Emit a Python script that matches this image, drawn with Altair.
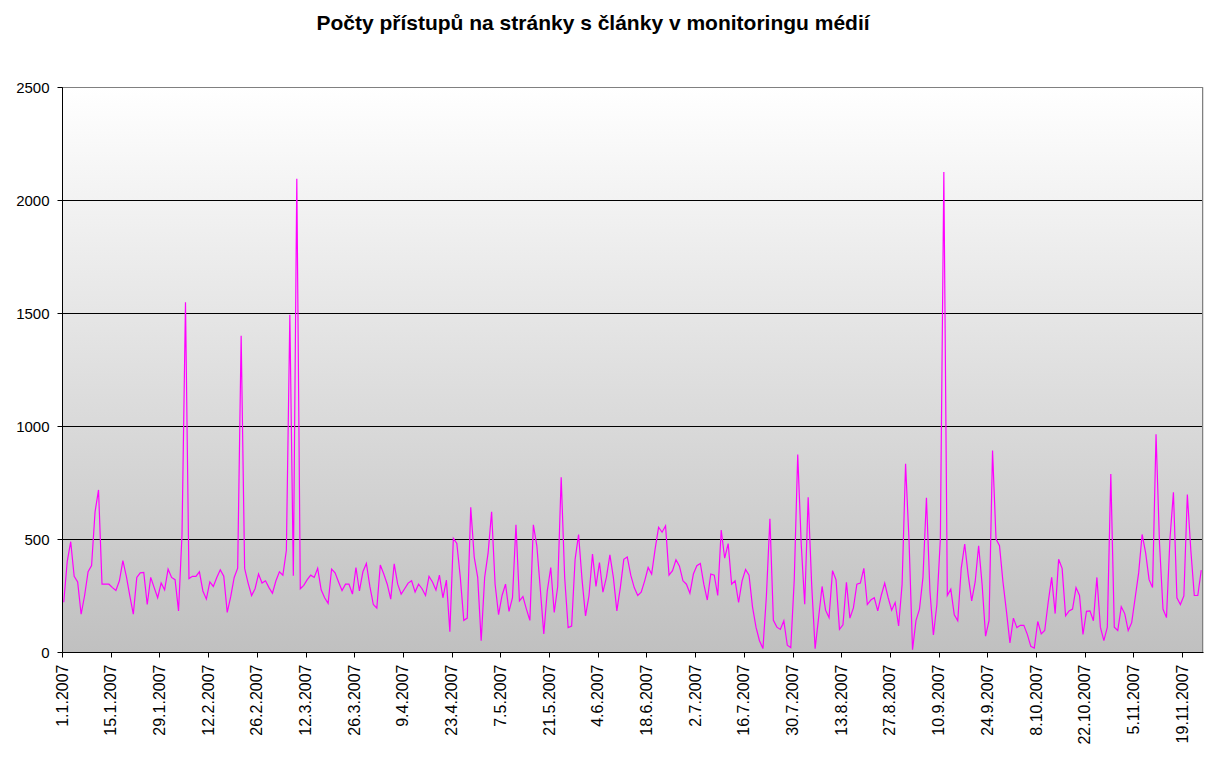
import altair as alt
import pandas as pd

TITLE = "Počty přístupů na stránky s články v monitoringu médií"

# daily hits, 1.1.2007 - 24.11.2007
VALUES = [
    220, 400, 488, 335, 310, 167, 250, 355, 382, 620,
    717, 300, 300, 300, 285, 272, 315, 404, 335, 248,
    167, 330, 350, 352, 210, 330, 285, 240, 305, 275,
    367, 330, 320, 182, 520, 1547, 325, 335, 335, 355,
    270, 234, 310, 290, 330, 364, 335, 175, 245, 330,
    371, 1399, 370, 305, 250, 280, 345, 305, 315, 285,
    260, 315, 355, 340, 450, 1492, 337, 2094, 280, 295,
    320, 340, 330, 370, 275, 240, 215, 367, 350, 310,
    272, 300, 300, 256, 374, 270, 355, 392, 290, 210,
    194, 385, 345, 300, 234, 390, 300, 256, 280, 305,
    315, 265, 300, 280, 250, 335, 310, 274, 340, 240,
    318, 90, 503, 480, 330, 140, 150, 640, 420, 330,
    50, 330, 440, 620, 300, 165, 250, 300, 180, 240,
    563, 226, 245, 190, 140, 563, 470, 278, 80, 270,
    374, 175, 290, 773, 330, 108, 115, 410, 520, 320,
    160, 250, 433, 290, 396, 265, 330, 430, 330, 182,
    285, 410, 420, 340, 285, 250, 265, 315, 374, 345,
    455, 552, 530, 558, 340, 360, 408, 380, 315, 300,
    260, 345, 382, 392, 300, 230, 345, 340, 250, 540,
    415, 480, 300, 315, 219, 315, 365, 340, 200, 110,
    50, 15, 250, 590, 140, 110, 100, 138, 30, 19,
    320, 874, 478, 211, 685, 300, 15, 152, 290, 185,
    152, 360, 320, 100, 120, 308, 150, 195, 300, 305,
    370, 210, 230, 240, 182, 250, 305, 240, 185, 219,
    115, 300, 833, 490, 10, 140, 190, 330, 682, 270,
    75, 210, 500, 2124, 250, 278, 165, 138, 370, 478,
    340, 226, 310, 470, 300, 70, 140, 892, 500, 470,
    310, 180, 40, 150, 108, 118, 118, 78, 25, 17,
    135, 80, 95, 220, 330, 170, 410, 370, 160, 182,
    190, 285, 250, 78, 180, 182, 138, 330, 110, 50,
    110, 788, 110, 95, 200, 170, 95, 130, 240, 350,
    520, 440, 320, 285, 963, 480, 190, 152, 500, 707,
    240, 210, 248, 697, 450, 250, 250, 362,
]

TICK_LABELS = [
    "1.1.2007", "15.1.2007", "29.1.2007", "12.2.2007", "26.2.2007", "12.3.2007",
    "26.3.2007", "9.4.2007", "23.4.2007", "7.5.2007", "21.5.2007", "4.6.2007",
    "18.6.2007", "2.7.2007", "16.7.2007", "30.7.2007", "13.8.2007", "27.8.2007",
    "10.9.2007", "24.9.2007", "8.10.2007", "22.10.2007", "5.11.2007", "19.11.2007",
]
TICK_STEP = 14
N_DAYS = 328
Y_TICKS = [0, 500, 1000, 1500, 2000, 2500]
GRID_LINES = [500, 1000, 1500, 2000]

W, H = 1141, 565
FONT = "Liberation Sans"

df = pd.DataFrame({"day": [i + 0.5 for i in range(len(VALUES))], "hits": VALUES})
tick_days = [k * TICK_STEP for k in range(len(TICK_LABELS))]
label_expr = "[" + ",".join("'" + s + "'" for s in TICK_LABELS) + "][round(datum.value/%d)]" % TICK_STEP

xscale = alt.Scale(domain=[0, N_DAYS], nice=False, zero=False)
yscale = alt.Scale(domain=[0, 2500], nice=False)

yaxis = alt.Axis(values=Y_TICKS, format="d", labelFont=FONT, labelFontSize=15,
                 labelColor="black", labelPadding=8, tickSize=5,
                 tickColor="black", domainColor="black", grid=False,
                 zindex=1, title=None)
xaxis = alt.Axis(values=tick_days, labelExpr=label_expr, labelAngle=-90,
                 labelFont=FONT, labelFontSize=16, labelColor="black",
                 labelPadding=7, labelOverlap=False, labelFlush=False,
                 tickSize=5, tickColor="black", domainColor="black",
                 grid=False, zindex=1, title=None)

one = alt.Data(values=[{}])

bg = alt.Chart(one).mark_rect(
    fill={"gradient": "linear", "x1": 0, "y1": 0, "x2": 0, "y2": 1,
          "stops": [{"offset": 0, "color": "#ffffff"}, {"offset": 1, "color": "#c0c0c0"}]},
    strokeWidth=0,
).encode(x=alt.value(0), x2=alt.value(W), y=alt.value(0), y2=alt.value(H))

grid = alt.Chart(pd.DataFrame({"g": GRID_LINES})).mark_rule(
    color="black", strokeWidth=1, yOffset=0.5
).encode(
    y=alt.Y("g:Q", scale=yscale, axis=yaxis),
    x=alt.value(0), x2=alt.value(W),
)

line = alt.Chart(df).mark_line(color="#ff00ff", strokeWidth=1.2).encode(
    x=alt.X("day:Q", scale=xscale, axis=xaxis),
    y=alt.Y("hits:Q", scale=yscale, axis=yaxis),
)

border = alt.Chart(one).mark_rule(color="#808080", strokeWidth=1)
top_border = border.encode(x=alt.value(0), x2=alt.value(W), y=alt.value(0.5))
right_border = border.encode(x=alt.value(W - 0.5), y=alt.value(0), y2=alt.value(H))

title = alt.Chart(one).mark_text(
    text=TITLE, font=FONT, fontSize=21, fontWeight="bold", color="black",
    align="center", baseline="alphabetic",
).encode(x=alt.value(531), y=alt.value(-57))

chart = alt.layer(bg, grid, line, top_border, right_border, title).properties(
    width=W, height=H,
    autosize=alt.AutoSizeParams(type="none"),
    padding={"left": 54, "top": 79, "right": 6, "bottom": 105},
).configure_view(stroke=None).configure(background="white")

chart.save("out.html", embed_options={"renderer": "svg", "actions": False})
